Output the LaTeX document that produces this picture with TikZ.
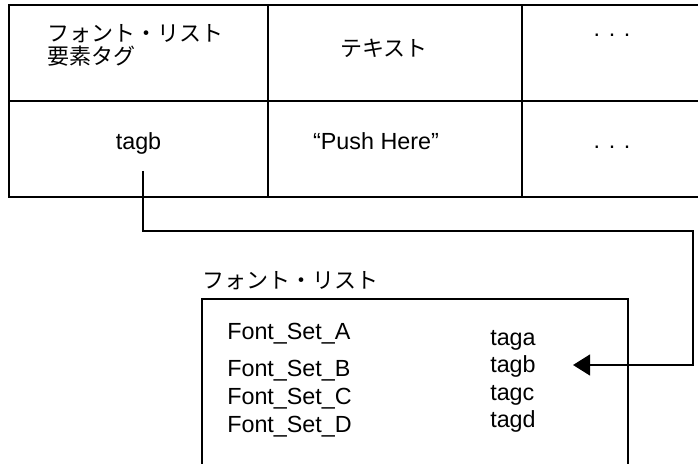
\documentclass[tikz,border=0pt]{standalone}
\usepackage{fontspec}
\setmainfont{Liberation Sans}
\newfontfamily\jp{Noto Sans CJK JP}
\usetikzlibrary{arrows.meta}
\begin{document}
\begin{tikzpicture}[x=0.75pt,y=-0.75pt,
  tbl/.style={line width=2.2pt},
  conn/.style={line width=1.8pt},
  frame/.style={line width=1.6pt},
  lbl/.style={inner sep=0pt,font=\fontsize{17.5}{20}\selectfont},
  jlbl/.style={inner sep=0pt,font=\jp\fontsize{16.5}{19}\selectfont}]
\useasboundingbox (0,0) rectangle (698,463);
% table
\draw[tbl] (698,5) -- (9,5) -- (9,197) -- (698,197);
\draw[tbl] (9,101) -- (698,101);
\draw[tbl] (268,5) -- (268,197);
\draw[tbl] (522,5) -- (522,197);
% header row
\node[jlbl,anchor=base west] (h1a) at (47,42) {フォント・リスト};
\node[jlbl,anchor=base west] (h1b) at (47,65) {要素タグ};
\node[jlbl,anchor=base] (h2) at (384,57) {テキスト};
\node[lbl,anchor=base] (h3) at (612,37) {. . .};
% data row
\node[lbl,anchor=base] (d1) at (138.5,150) {tagb};
\node[lbl,anchor=base] (d2) at (376,150) {“Push Here”};
\node[lbl,anchor=base] (d3) at (612,149) {. . .};
% font list box
\node[jlbl,anchor=base west] (fltitle) at (202,288) {フォント・リスト};
\draw[frame] (202,470) -- (202,299) -- (628,299) -- (628,470);
\node[lbl,anchor=base west] (fa) at (227,339) {Font\_Set\_A};
\node[lbl,anchor=base west] (fb) at (227,376) {Font\_Set\_B};
\node[lbl,anchor=base west] (fc) at (227,404) {Font\_Set\_C};
\node[lbl,anchor=base west] (fd) at (227,432) {Font\_Set\_D};
\node[lbl,anchor=base west] (ta) at (490,345) {taga};
\node[lbl,anchor=base west] (tb) at (490,372) {tagb};
\node[lbl,anchor=base west] (tc) at (490,400) {tagc};
\node[lbl,anchor=base west] (td) at (490,427) {tagd};
% connector
\coordinate (src) at (143,171);
\coordinate (k1) at (143,231);
\coordinate (k2) at (693,231);
\coordinate (k3) at (693,365);
\coordinate (dst) at (573,365);
\draw[conn,-{Triangle[length=12.75pt,width=15.5pt]}] (src) -- (k1) -- (k2) -- (k3) -- (dst);
\end{tikzpicture}
\end{document}
